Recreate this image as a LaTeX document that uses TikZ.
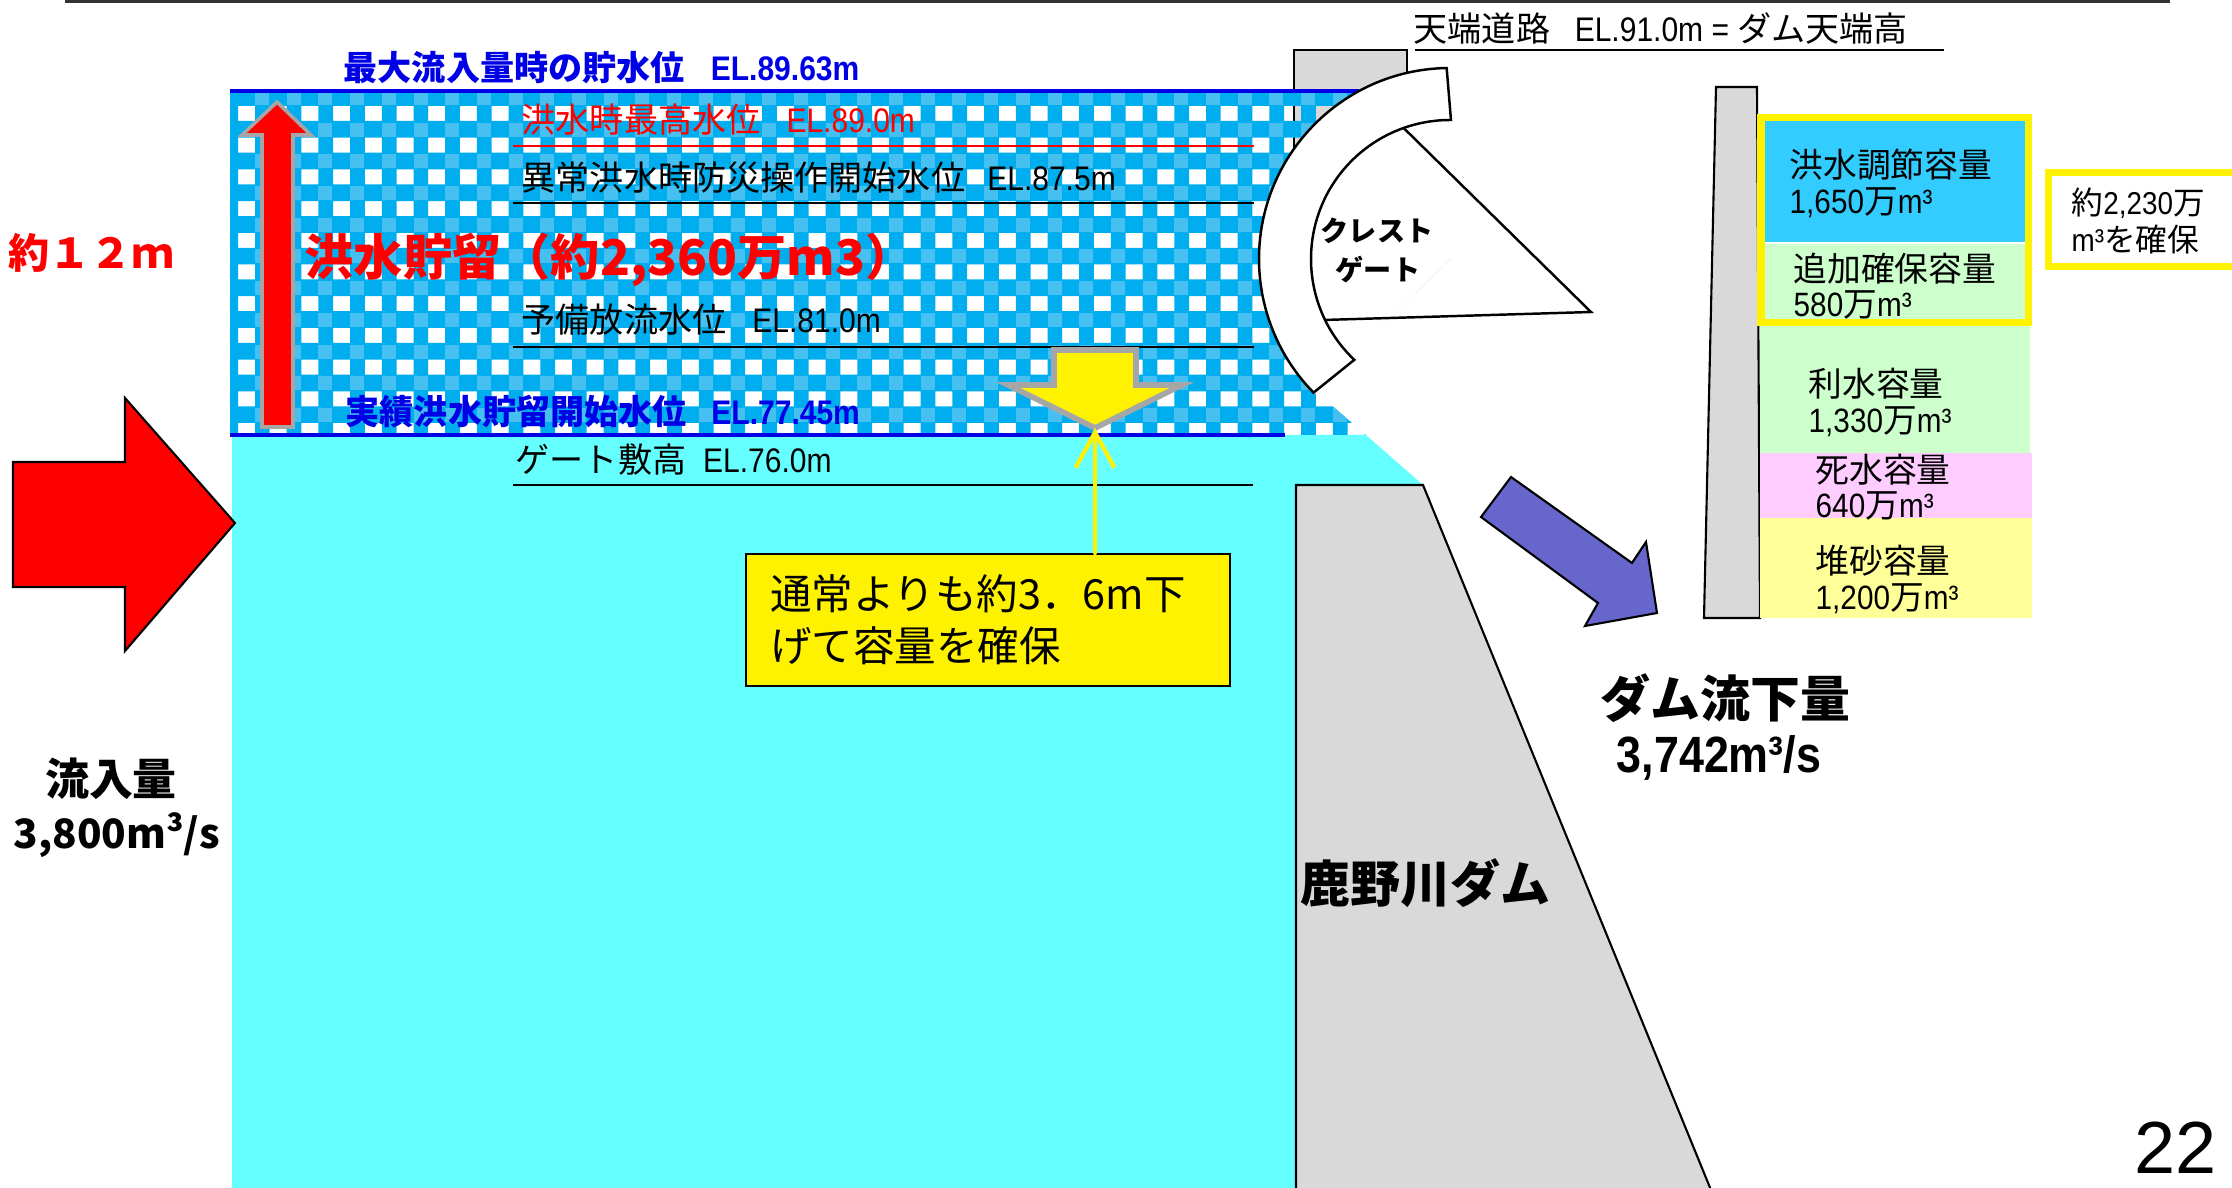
\documentclass[tikz,border=0pt]{standalone}
\usepackage{fontspec}
\setmainfont{Noto Sans CJK JP}
\newfontfamily\nar[FakeStretch=0.88]{Liberation Sans}
\newfontfamily\arial{Liberation Sans}
\usetikzlibrary{arrows.meta,calc}

\definecolor{poolblue}{HTML}{00AEEF}
\definecolor{pooldot}{HTML}{45C0F0}
\definecolor{lowwater}{HTML}{66FFFF}
\definecolor{damgray}{HTML}{D9D9D9}
\definecolor{lvlblue}{HTML}{0000E6}
\definecolor{flowpurple}{HTML}{6666CC}
\definecolor{ctlblue}{HTML}{33CCFF}
\definecolor{usegreen}{HTML}{CCFFCC}
\definecolor{deadpink}{HTML}{FFCCFF}
\definecolor{sandyellow}{HTML}{FFFF99}
\definecolor{rimgray}{HTML}{A6A6A6}

\begin{document}
\begin{tikzpicture}[x=0.01cm, y=-0.01cm,
  lbl/.style={inner sep=0pt, anchor=west},
  ctr/.style={inner sep=0pt, anchor=center},
  levelline/.style={line width=0.85pt},
  outline/.style={draw=black, line width=0.6pt},
  fs/.style={font=\fontsize{#1}{#1}\selectfont},
  fsb/.style={font=\fontsize{#1}{#1}\selectfont\bfseries},
]
\useasboundingbox (0,0) rectangle (2232,1188);

% header rule
\draw[line width=1pt, black!80] (65,1.5) -- (2170,1.5);

% crest road label and its rule
\node[lbl, fs=9.7pt] (crest) at (1413,28) {天端道路\hspace{7pt}{\nar EL.91.0m = }ダム天端高};
\draw[line width=0.8pt] (1415,50) -- (1944,50);

% dam crest block (partly behind water and gate)
\filldraw[fill=damgray, outline] (1294,50) rectangle (1407,160);

% low water body
\fill[lowwater] (232,435) -- (1366,435) -- (1423,485) -- (1296,485) -- (1296,1188) -- (232,1188) -- cycle;

% dam body
\filldraw[fill=damgray, outline] (1296,1195) -- (1296,485) -- (1423,485) -- (1713,1195) -- cycle;

% flood storage zone: checked pattern with open squares
\begin{scope}
  \clip (230,91) -- (1359,91) -- (1450,259) -- (1316,392) -- (1366,435) -- (230,435) -- cycle;
  \fill[poolblue, even odd rule] (220,80) rectangle (1480,445)
    \foreach \i in {0,...,38} { \foreach \j in {0,...,10} { ({238+31.7*\i},{106+31.7*\j}) rectangle +(17,15) } };
  \foreach \i in {0,...,38} {
    \foreach \j in {0,...,10} {
      \fill[pooldot] ({255+31.7*\i},{91+31.7*\j}) rectangle +(14,14);
    }
  }
\end{scope}

% water levels
\draw[lvlblue, line width=1.4pt] (230,91) -- (1359,91);
\draw[lvlblue, line width=1.4pt] (230,435) -- (1285,435);
\draw[red, levelline] (513,146) -- (1254,146);
\draw[levelline] (513,203) -- (1254,203);
\draw[levelline] (513,347) -- (1254,347);
\draw[levelline] (513,485) -- (1253,485);

\node[lbl, text=lvlblue, fsb=9.7pt] (lvmax) at (343,68) {最大流入量時の貯水位\hspace{7.4pt}{\nar EL.89.63m}};
\node[lbl, text=red, fs=9.7pt] (lvflood) at (521,120) {洪水時最高水位\hspace{7.4pt}{\nar EL.89.0m}};
\node[lbl, fs=9.7pt] (lvemerg) at (521,178) {異常洪水時防災操作開始水位\hspace{6.3pt}{\nar EL.87.5m}};
\node[lbl, text=red, fsb=14pt] (storage) at (304,260) {洪水貯留（約2,360万m3）};
\node[lbl, fs=9.7pt] (lvpre) at (521,320) {予備放流水位\hspace{7.4pt}{\nar EL.81.0m}};
\node[lbl, text=lvlblue, fsb=9.7pt] (lvstart) at (345,412) {実績洪水貯留開始水位\hspace{7pt}{\nar EL.77.45m}};
\node[lbl, fs=9.7pt] (lvsill) at (515,460) {ゲート敷高\hspace{4.8pt}{\nar EL.76.0m}};

% crest gate (radial gate with arm triangle)
\coordinate (gc) at (1450,259);
\fill[white] (gc) -- ++(-91:191) arc[start angle=-91, end angle=-225, radius=191] -- cycle;
\coordinate (garm) at ($(gc)+(-109.5:139)$);
\coordinate (gfoot) at ($(gc)+(-206:139)$);
\coordinate (gtip) at (1591,312);
\draw[line width=0.7pt] (garm) -- (gtip) -- (gfoot);
\draw[line width=0.7pt, fill=white] ($(gc)+(-91:191)$) arc[start angle=-91, end angle=-224.4, radius=191]
  -- ($(gc)+(-226.5:139)$) arc[start angle=-226.5, end angle=-89.6, radius=139] -- cycle;
\node[ctr, fsb=8pt] (gname1) at (1377,231) {クレスト};
\node[ctr, fsb=8pt] (gname2) at (1378,270) {ゲート};

% rise of water level
\filldraw[fill=red, draw=rimgray, line width=1pt] (262,427) -- (262,135) -- (242,135) -- (277,102)
  -- (311,135) -- (293,135) -- (293,427) -- cycle;
\node[lbl, text=red, fsb=11.7pt] (rise) at (8,253) {約１２ｍ};

% inflow
\filldraw[fill=red, outline] (13,462) -- (125,462) -- (125,398) -- (235,523) -- (125,651) -- (125,587) -- (13,587) -- cycle;
\node[ctr, fsb=12.5pt] (inname) at (111,779) {流入量};
\node[lbl, fsb=11.5pt] (inval) at (13,835) {3,800m³/s};

% drawdown
\coordinate (dtip) at (1095,428);
\filldraw[fill=yellow, draw=rimgray, line width=1.6pt, line join=miter]
  (1054,350) -- (1136,350) -- (1136,385) -- (1182,385) -- (dtip) -- (1008,385) -- (1054,385) -- cycle;
\node[draw=black, line width=0.6pt, fill=yellow, anchor=north west, minimum width=4.84cm,
  minimum height=1.32cm, text width=4.36cm, inner xsep=0.24cm, align=left,
  font=\fontsize{11.8pt}{14.8pt}\selectfont] (note) at (745,553)
  {通常よりも約3．6m下\\げて容量を確保};
\draw[yellow, line width=1.2pt, line cap=round, -{Straight Barb[length=10pt, width=11pt]}]
  (note.north -| dtip) -- (dtip);

% outflow
\filldraw[fill=flowpurple, outline] (1511,477) -- (1632,563) -- (1646,542) -- (1657,613)
  -- (1585,626) -- (1598,603) -- (1481,517) -- cycle;
\node[lbl, fsb=14.2pt] (outname) at (1600,698) {ダム流下量};
\node[lbl, font=\fontsize{14.5pt}{14.5pt}\selectfont\nar\bfseries] (outval) at (1616,758) {3,742m³/s};

\node[lbl, fsb=14.2pt] (damname) at (1300,883) {鹿野川ダム};

% storage allocation column
\filldraw[fill=damgray, outline] (1716,87) -- (1757,87) -- (1760,618) -- (1704,618) -- cycle;
\fill[ctlblue] (1760,117) rectangle (2030,243);
\fill[usegreen] (1760,243) rectangle (2030,453);
\fill[deadpink] (1760,453) rectangle (2032,518);
\fill[sandyellow] (1760,518) rectangle (2032,618);
\draw[white, line width=0.6pt] (1764,243) -- (2026,243);
\draw[yellow, line width=2pt] (1761,117.5) rectangle (2028.5,322.5);

\node[lbl, fs=9.6pt] (c1a) at (1789,165) {洪水調節容量};
\node[lbl, fs=9.6pt] (c1b) at (1789,203) {{\nar 1,650}万{\nar m³}};
\node[lbl, fs=9.6pt] (c2a) at (1793,269) {追加確保容量};
\node[lbl, fs=9.6pt] (c2b) at (1793,305) {{\nar 580}万{\nar m³}};
\node[lbl, fs=9.6pt] (c3a) at (1808,384) {利水容量};
\node[lbl, fs=9.6pt] (c3b) at (1808,422) {{\nar 1,330}万{\nar m³}};
\node[lbl, fs=9.6pt] (c4a) at (1815,470) {死水容量};
\node[lbl, fs=9.6pt] (c4b) at (1815,506) {{\nar 640}万{\nar m³}};
\node[lbl, fs=9.6pt] (c5a) at (1815,561) {堆砂容量};
\node[lbl, fs=9.6pt] (c5b) at (1815,599) {{\nar 1,200}万{\nar m³}};

% secured total
\draw[yellow, line width=2pt] (2232,172.5) -- (2048.5,172.5) -- (2048.5,266.5) -- (2232,266.5);
\node[lbl, fs=9pt] (tot1) at (2071,203) {約{\nar 2,230}万};
\node[lbl, fs=9pt] (tot2) at (2071,239) {{\nar m³}を確保};

% page number
\node[lbl, font=\fontsize{21pt}{21pt}\selectfont\arial] (page) at (2134,1148) {22};
\end{tikzpicture}
\end{document}
